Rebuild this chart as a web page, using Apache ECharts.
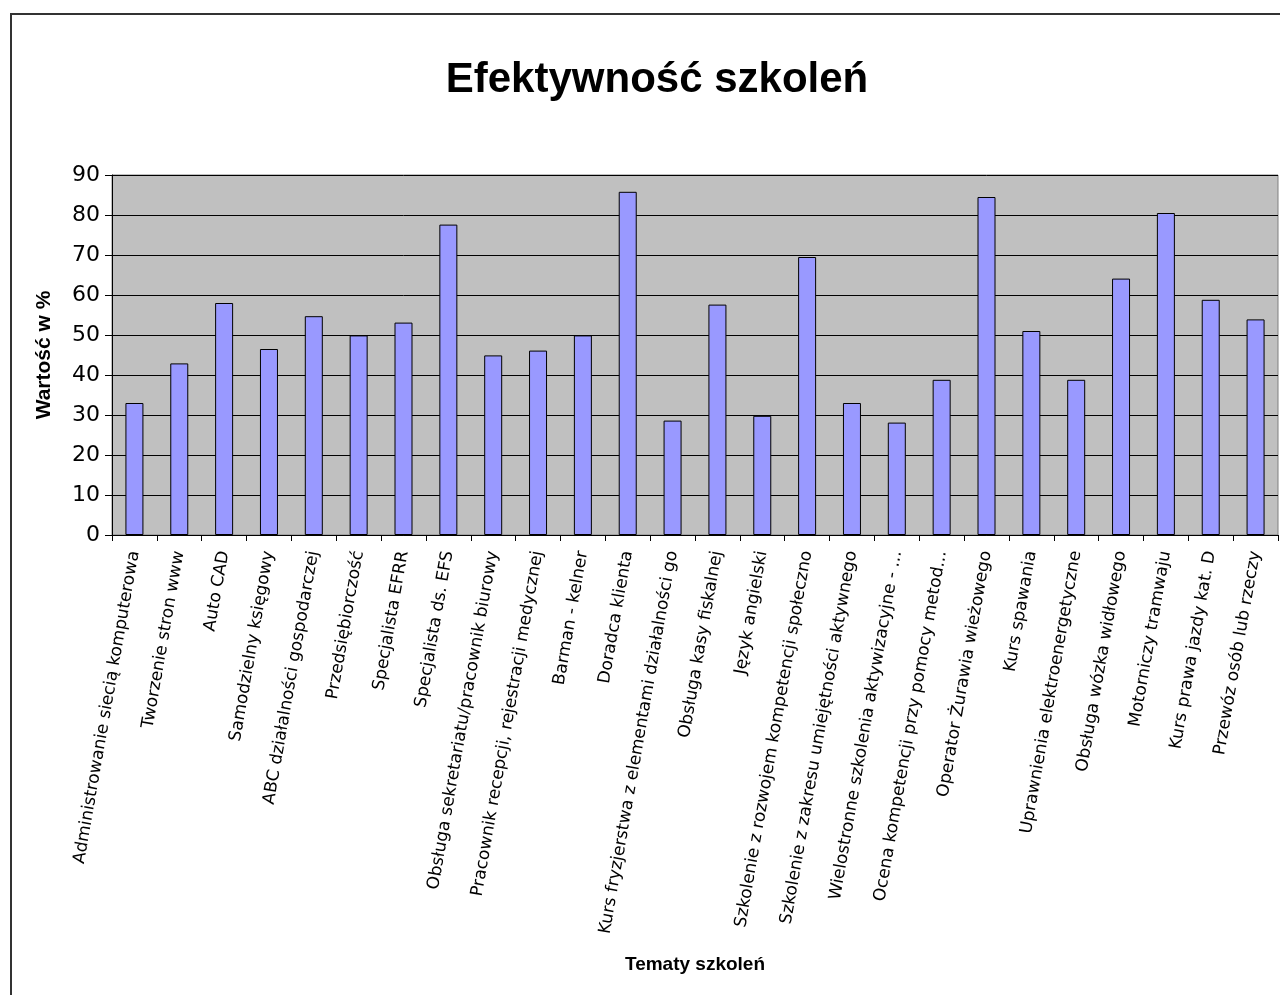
<!DOCTYPE html>
<html>
<head>
<meta charset="utf-8">
<script src="https://cdn.jsdelivr.net/npm/echarts@6/dist/echarts.min.js"></script>
<style>
    html, body { margin: 0; padding: 0; background: #fff; }
    #main { width: 1280px; height: 995px; }
</style>
</head>
<body>
<div id="main"></div>
<script>
// tematy szkoleń (etykiety jak na wykresie, niektóre ucięte)
var tematy = [
    'Administrowanie siecią komputerowa',
    'Tworzenie stron www',
    'Auto CAD',
    'Samodzielny księgowy',
    'ABC działalności gospodarczej',
    'Przedsiębiorczość',
    'Specjalista EFRR',
    'Specjalista ds. EFS',
    'Obsługa sekretariatu/pracownik biurowy',
    'Pracownik recepcji, rejestracji medycznej',
    'Barman - kelner',
    'Doradca klienta',
    'Kurs fryzjerstwa z elementami działalności go',
    'Obsługa kasy fiskalnej',
    'Język angielski',
    'Szkolenie z rozwojem kompetencji społeczno',
    'Szkolenie z zakresu umiejętności aktywnego',
    'Wielostronne szkolenia aktywizacyjne - ...',
    'Ocena kompetencji przy pomocy metod...',
    'Operator Żurawia wieżowego',
    'Kurs spawania',
    'Uprawnienia elektroenergetyczne',
    'Obsługa wózka widłowego',
    'Motorniczy tramwaju',
    'Kurs prawa jazdy kat. D',
    'Przewóz osób lub rzeczy'
];

// wartość w %
var wartosci = [33, 42.9, 58, 46.5, 54.7, 49.9, 53.1, 77.6, 44.9, 46.1, 49.9, 85.8, 28.6,
    57.6, 29.8, 69.5, 33, 28.1, 38.8, 84.5, 51, 38.8, 64.1, 80.5, 58.8, 53.9];

var yTicks = { min: 0, max: 90, interval: 10 };

var myChart = echarts.init(document.getElementById('main'));

var option = {
    backgroundColor: '#ffffff',
    animation: false,
    textStyle: { fontFamily: 'Liberation Sans, Arial, sans-serif' },
    title: {
        text: 'Efektywność szkoleń',
        left: 652,
        textAlign: 'center',
        top: 54,
        textStyle: { fontSize: 42, fontWeight: 'bold', color: '#000' }
    },
    graphic: [{
        // ramka wykresu
        type: 'rect',
        shape: { x: 11, y: 14, width: 1300, height: 1000 },
        style: { fill: 'none', stroke: '#333', lineWidth: 2 },
        silent: true
    }],
    grid: {
        left: 112,
        top: 175,
        width: 1166,
        height: 360,
        show: true,
        backgroundColor: '#C0C0C0',
        borderColor: '#808080',
        borderWidth: 1
    },
    xAxis: {
        type: 'category',
        data: tematy,
        name: 'Tematy szkoleń',
        nameLocation: 'middle',
        nameGap: 420,
        nameTextStyle: { fontSize: 19, fontWeight: 'bold', color: '#000' },
        axisLine: { lineStyle: { color: '#000', width: 1 } },
        axisTick: { show: true, length: 6, lineStyle: { color: '#000' } },
        axisLabel: {
            interval: 0,
            rotate: 80,
            margin: 16,
            fontSize: 17,
            fontFamily: 'DejaVu Sans',
            color: '#000'
        }
    },
    yAxis: {
        type: 'value',
        min: yTicks.min,
        max: yTicks.max,
        interval: yTicks.interval,
        name: 'Wartość w %',
        nameLocation: 'middle',
        nameRotate: 90,
        nameGap: 57,
        nameTextStyle: { fontSize: 21, fontWeight: 'bold', color: '#000' },
        axisLine: { show: true, lineStyle: { color: '#000' } },
        axisTick: { show: true, length: 7, lineStyle: { color: '#000' } },
        axisLabel: { fontSize: 22, fontFamily: 'DejaVu Sans', color: '#000', margin: 12 },
        splitLine: { show: true, lineStyle: { color: '#000', width: 1 } }
    },
    series: [{
        type: 'bar',
        data: wartosci,
        barWidth: 18,
        itemStyle: {
            color: '#9999FF',
            borderColor: '#000',
            borderWidth: 1
        }
    }]
};

myChart.setOption(option);
</script>
</body>
</html>
